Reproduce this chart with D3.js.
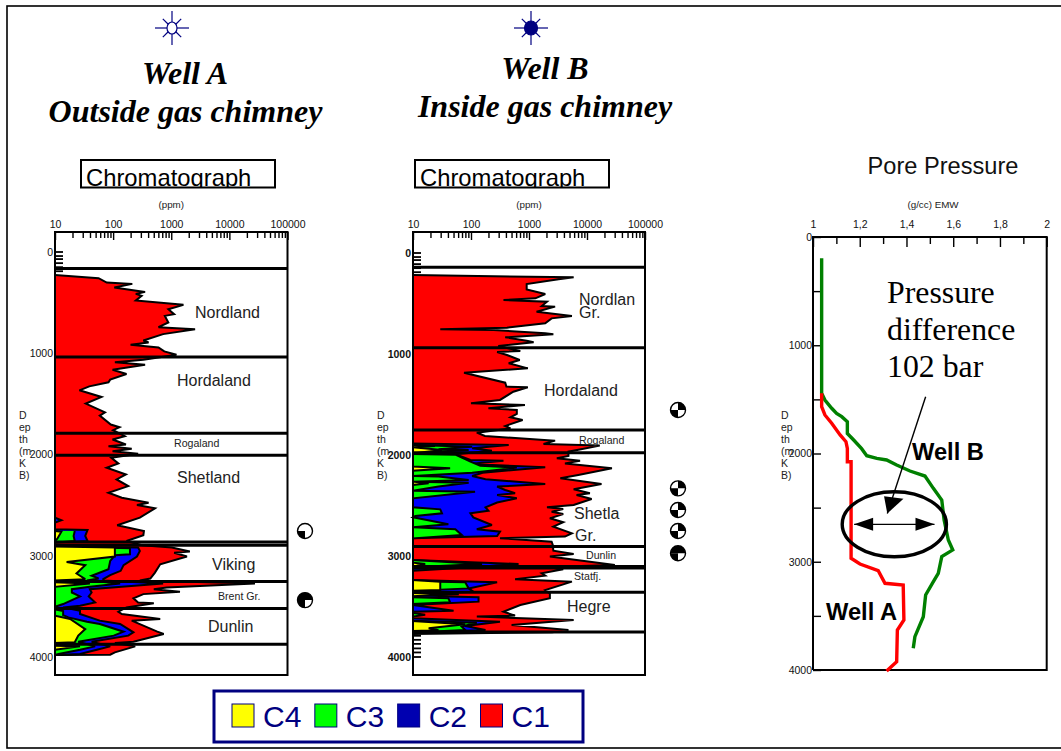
<!DOCTYPE html>
<html><head><meta charset="utf-8">
<script src="https://cdn.jsdelivr.net/npm/d3@7"></script>
<style>html,body{margin:0;padding:0;background:#fff}svg{display:block}</style>
</head><body><svg id="c" width="1061" height="751" font-family="Liberation Sans, Arial, sans-serif"></svg>
<script>
// Every curve: [depth in metres, log10 of cumulative ppm]
const wellA_C1=[[227,1],[259,1.75],[302,1.89],[315,2.33],[351,2.02],[394,2.55],[414,2.39],[433,2.49],[479,2.39],[522,3.21],[565,2.95],[614,3.05],[631,2.89],[696,2.95],[742,2.78],[762,3.41],[811,2.86],[874,2.52],[893,2.61],[916,2.30],[943,2.78],[982,2.88],[1015,3.09],[1064,2.52],[1090,2.03],[1113,2.55],[1163,1.99],[1205,2.23],[1261,1.95],[1287,1.92],[1327,1.59],[1366,1.42],[1432,1.80],[1497,1.53],[1583,1.86],[1616,1.77],[1704,1.96],[1731,2.11],[1760,2.00],[1819,2.20],[1852,1.99],[1901,2.22],[1918,1.92],[1944,2.32],[1967,1.99],[1993,2.43],[2033,1.97],[2089,2.09],[2131,1.89],[2197,2.22],[2246,2.06],[2312,2.26],[2378,1.92],[2427,2.15],[2476,2.61],[2499,2.41],[2532,2.72],[2624,2.46],[2699,2.07],[2755,2.53],[2798,2.52],[2854,2.23],[2897,2.5],[2919,3.01],[2959,3.32],[2970,3.05],[3008,3.27],[3084,2.81],[3166,2.72],[3225,2.64],[3245,2.46],[3274,4.44],[3313,2.92],[3330,2.7],[3356,3.15],[3379,2.52],[3421,2.35],[3461,2.43],[3470,2.70],[3510,2.23],[3553,2.09],[3576,2.15],[3625,2.81],[3641,2.32],[3750,2.76],[3773,2.87],[3849,2.35],[3862,2.03],[3895,2.38],[3954,2.03],[3977,1.95],[3980,1]];
const wellA_C2=[[2624,1],[2650,1.11],[2673,1],[2739,1],[2745,1.56],[2805,1.52],[2854,1.56],[2870,1],[2909,1],[2919,2.43],[2952,2.46],[3008,2.41],[3093,2.18],[3149,2.13],[3192,1.95],[3231,1.83],[3244,1.83],[3274,2.86],[3307,2.15],[3330,1.60],[3363,1.63],[3402,1.58],[3461,1.69],[3494,1.43],[3510,1.14],[3543,1.43],[3576,1.43],[3641,1.77],[3674,2.12],[3756,2.35],[3789,2.26],[3849,1.63],[3895,1.95],[3928,1.72],[3970,1.43],[3980,1]];
const wellA_C3=[[2755,1.34],[2805,1.32],[2854,1.34],[2870,1],[2909,1],[2926,2.29],[2985,2.29],[2995,2.03],[3051,1.95],[3133,1.92],[3198,1.63],[3224,1.75],[3244,1.55],[3274,2.12],[3307,1.60],[3330,1.29],[3363,1.29],[3402,1.43],[3477,1.14],[3503,1],[3530,1],[3546,1.14],[3586,1.14],[3609,1.23],[3651,1.55],[3674,1.77],[3750,2.18],[3789,2.01],[3849,1.40],[3895,1.69],[3928,1.43],[3970,1.06],[3980,1]];
const wellA_C4=[[2755,1],[2762,1.11],[2831,1.04],[2854,1],[2909,1],[2919,2.03],[3008,2.03],[3061,1.20],[3093,1.52],[3175,1.37],[3231,1.52],[3244,1],[3262,1],[3274,1.60],[3307,1],[3592,1],[3625,1.26],[3724,1.52],[3789,1.40],[3855,1.34],[3862,1],[3888,1],[3895,1.43],[3928,1]];
const wellB_C1=[[218,1],[241,3.77],[261,3.51],[307,2.96],[360,2.96],[406,3.28],[449,3.11],[465,2.56],[482,3.31],[525,3.22],[531,3.45],[581,3.13],[624,3.74],[647,3.39],[696,3.28],[739,2.62],[756,1.47],[762,2.39],[795,3.28],[805,3.42],[835,2.59],[868,2.96],[884,3.08],[921,2.47],[970,2.85],[980,2.45],[1010,2.62],[1059,2.84],[1092,2.65],[1142,2.98],[1185,1.88],[1284,2.59],[1323,2.61],[1330,2.98],[1373,2.73],[1455,2.50],[1488,2.00],[1505,2.93],[1538,2.30],[1554,2.79],[1594,2.79],[1627,2.68],[1653,2.89],[1713,2.59],[1736,2.68],[1779,2.10],[1812,2.24],[1858,3.45],[1891,3.25],[1907,4.22],[1967,3.68],[2010,3.68],[2033,3.48],[2056,3.88],[2083,3.62],[2132,4.43],[2198,3.85],[2231,3.54],[2287,4.25],[2340,3.77],[2379,4.05],[2396,3.82],[2435,4.08],[2495,3.77],[2518,3.31],[2534,3.59],[2561,3.39],[2584,3.59],[2627,3.36],[2666,3.59],[2709,3.42],[2775,3.74],[2808,3.62],[2825,2.50],[2858,3.39],[2891,3.41],[2947,3.42],[2980,3.77],[3006,3.36],[3089,4.48],[3110,3.3],[3132,3.59],[3172,3.22],[3195,3.28],[3231,2.76],[3254,3.74],[3337,3.28],[3370,3.36],[3419,3.36],[3485,2.85],[3551,2.56],[3590,2.76],[3600,2.10],[3633,3.77],[3683,2.70],[3732,3.68],[3755,3.4],[3772,1]];
const wellB_C2=[[1885,1],[1901,2.65],[1934,2.02],[1957,2.36],[1993,1.73],[2049,1.99],[2056,2.56],[2089,1.96],[2122,3.28],[2175,2.2],[2208,2.02],[2241,2.25],[2287,3.28],[2313,2.45],[2346,2.59],[2379,2.76],[2396,2.45],[2429,2.79],[2471,2.45],[2518,2.25],[2551,2.30],[2577,1.99],[2617,2.04],[2693,2.36],[2735,2.10],[2759,2.50],[2802,2.45],[2825,1],[3039,1],[3079,2.82],[3112,2.02],[3145,1],[3238,1],[3261,2.45],[3321,1.96],[3353,2.04],[3380,1],[3400,1.6],[3409,2.13],[3452,2.13],[3485,1],[3541,1.70],[3551,1],[3617,1],[3650,2.50],[3693,1.90],[3732,2.25],[3758,1]];
const wellB_C3=[[1901,1],[1918,2.02],[1944,1.44],[1950,1.96],[1983,1],[1990,1],[1997,1.73],[2066,1.99],[2106,2.16],[2125,2.79],[2175,2.02],[2208,1],[2214,1.44],[2247,1.96],[2264,1],[2274,1.96],[2313,1.44],[2353,1],[2363,2.07],[2429,1],[2518,1],[2538,1.47],[2577,1.50],[2604,1.04],[2617,1],[2686,1.61],[2716,1],[2735,1.73],[2792,1.84],[2825,1],[3039,1],[3079,2.19],[3112,1],[3250,1],[3261,1.90],[3321,1.96],[3345,1],[3409,1],[3419,1.61],[3459,1.64],[3475,1],[3564,1],[3581,1.21],[3600,1],[3640,1],[3660,2.10],[3699,1.84],[3732,1.90],[3758,1]];
const wellB_C4=[[1901,1],[1911,1.38],[1924,1],[1950,1.50],[1983,1],[2115,1],[2132,1.64],[2155,1],[2264,1],[2280,1.27],[2297,1],[3066,1],[3079,1.21],[3105,1],[3238,1],[3254,1.47],[3337,1.47],[3345,1],[3366,1],[3379,1.79],[3399,1],[3643,1],[3676,1.90],[3716,1.27],[3736,1.44],[3742,1]];
const wellA_tops=[164,1038,1790,2007,2865,2897,3254,3520,3875];
const wellB_tops=[142,937,1752,1977,2907,3105,3120,3360,3752];
const wellA_minorDepths=[0,40,70,110,150,190];
const wellB_minorDepths=[0,40,70,110,150,190,3790,3830,3870,3915,3955,4000];
const wellA_formations=[["Nordland",195,318,16],["Hordaland",177,386,16],["Rogaland",174,447,10.6],["Shetland",177,483,16],["Viking",212,570,16],["Brent Gr.",218,600,10.6],["Dunlin",208,632,16]];
const wellB_formations=[["Nordlan",579,305,16],["Gr.",579,318,16],["Hordaland",544,396,16],["Rogaland",579,444,10.6],["Shetla",574,519,16],["Gr.",575,541,16],["Dunlin",586,559,10.6],["Statfj.",574,580,10.6],["Hegre",567,612,16]];
const wellA_tests=[[2756,[2]],[3438,[0,2,3]]];
const wellB_tests=[[1554,[0,2]],[2330,[0,2]],[2545,[0,2]],[2752,[0,2]],[2973,[0,2,3]]];
const pressureWellB=[[197,1.037],[1444,1.037],[1506,1.051],[1582,1.08],[1629,1.101],[1660,1.123],[1706,1.147],[1815,1.147],[1871,1.172],[1955,1.208],[2020,1.23],[2045,1.273],[2060,1.315],[2106,1.358],[2162,1.415],[2208,1.479],[2322,1.515],[2430,1.551],[2614,1.561],[2799,1.579],[2891,1.598],[2953,1.551],[3107,1.536],[3184,1.515],[3307,1.482],[3508,1.472],[3692,1.436],[3800,1.429]];
const pressureWellA=[[1444,1.037],[1567,1.037],[1644,1.051],[1721,1.08],[1829,1.116],[1891,1.141],[1952,1.147],[2076,1.147],[2076,1.163],[2968,1.163],[3021,1.201],[3083,1.279],[3199,1.308],[3215,1.386],[3538,1.389],[3630,1.361],[3923,1.358],[4009,1.315]];
const pressureTicks=d3.range(1,2.01,0.1);
const pressureLabels=["1","1,2","1,4","1,6","1,8","2"];
const depthLabels=[0,1000,2000,3000,4000];
const depthWrapped=["D","ep","th","(m","K","B)"];
const legendNames=["C4","C3","C2","C1"];
const chartColors={C1:"#ff0000",C2:"#0000ff",C3:"#00ff00",C4:"#ffff00"};
const legendColors=["#ffff00","#00ff00","#0000b0","#ff0000"];
const navy="#000080";

const svg=d3.select("#c");
const defs=svg.append("defs");
svg.append("rect").attr("width",1061).attr("height",751).attr("fill","#fff");
svg.append("rect").attr("x",7).attr("y",6).attr("width",1070).attr("height",742).attr("fill","none").attr("stroke","#000").attr("stroke-width",1.6);

function label(g,t,x,y,size,o={}){return g.append("text").attr("x",x).attr("y",y).attr("font-size",size).attr("text-anchor",o.anchor||"start").attr("font-weight",o.weight||"normal").attr("font-style",o.style||"normal").attr("font-family",o.family||null).attr("fill",o.fill||"#111").text(t);}

function sun(cx,cy,filled){
  const g=svg.append("g").attr("transform",`translate(${cx},${cy})`);
  g.selectAll("line").data(d3.range(8)).join("line")
    .attr("x1",d=>5*Math.cos(d*Math.PI/4)).attr("y1",d=>5*Math.sin(d*Math.PI/4))
    .attr("x2",d=>(d%2?13:17)*Math.cos(d*Math.PI/4)).attr("y2",d=>(d%2?13:17)*Math.sin(d*Math.PI/4))
    .attr("stroke",navy).attr("stroke-width",1.2);
  g.append("ellipse").attr("rx",filled?6.5:5).attr("ry",filled?7:6).attr("fill",filled?navy:"#fff").attr("stroke",navy).attr("stroke-width",1.2);
}

function chromBox(x,id){
  svg.append("rect").attr("x",x).attr("y",160).attr("width",194).attr("height",27.5).attr("fill","#fff").attr("stroke","#000").attr("stroke-width",2);
  defs.append("clipPath").attr("id",id).append("rect").attr("x",x).attr("y",160).attr("width",194).attr("height",27.5);
  label(svg,"Chromatograph",x+5,186,23.8).attr("clip-path",`url(#${id})`).attr("fill","#000");
}

function wrapped(x){
  const g=svg.append("g");
  depthWrapped.forEach((t,i)=>label(g,t,x,419+i*12,10.5,{fill:"#222"}));
}

function wellPanel(o){
  const x=d3.scaleLog().domain([10,100000]).range([o.x0,o.x1]);
  const y=d3.scaleLinear().domain([0,4000]).range([o.y0,o.y4]);
  const g=svg.append("g");
  g.append("rect").attr("x",o.x0).attr("y",232).attr("width",o.x1-o.x0).attr("height",443).attr("fill","#fff");
  const area=d3.area().x0(x(10)).x1(d=>x(10**d[1])).y(d=>y(d[0]));
  const line=d3.line().x(d=>x(10**d[1])).y(d=>y(d[0]));
  ["C1","C2","C3","C4"].forEach((k,i)=>{
    g.append("path").datum(o.curves[i]).attr("d",area).attr("fill",chartColors[k]);
    g.append("path").datum(o.curves[i]).attr("d",line).attr("fill","none").attr("stroke","#000").attr("stroke-width",2).attr("stroke-linejoin","miter").attr("stroke-miterlimit",3);
  });
  g.selectAll("line.top").data(o.tops).join("line").attr("class","top").attr("x1",o.x0).attr("x2",o.x1).attr("y1",d=>y(d)).attr("y2",d=>y(d)).attr("stroke","#000").attr("stroke-width",3);
  g.selectAll("line.minor").data(o.minor).join("line").attr("class","minor").attr("x1",o.x0).attr("x2",o.x0+8).attr("y1",d=>y(d)).attr("y2",d=>y(d)).attr("stroke","#000").attr("stroke-width",1.8);
  g.append("rect").attr("x",o.x0).attr("y",232).attr("width",o.x1-o.x0).attr("height",443).attr("fill","none").attr("stroke","#000").attr("stroke-width",2);
  const top=g.append("g").attr("transform","translate(0,232)").call(
    d3.axisTop(x).tickValues(x.ticks()).tickSizeInner(-6).tickSizeOuter(0).tickPadding(4)
      .tickFormat(d=>Number.isInteger(Math.log10(d))?String(d):""));
  top.select(".domain").remove();
  top.selectAll(".tick line").attr("stroke-width",1.4).attr("y2",d=>Number.isInteger(Math.log10(d))?8:6);
  top.selectAll(".tick text").attr("font-size",10.5).attr("font-family","Liberation Sans").attr("fill","#111");
  const left=g.append("g").attr("transform",`translate(${o.x0},0)`).call(
    d3.axisLeft(y).tickValues(depthLabels).tickSize(0).tickPadding(2).tickFormat(d3.format("d")));
  left.select(".domain").remove();
  left.selectAll("text").attr("font-size",10.5).attr("font-family","Liberation Sans").attr("fill","#111").attr("font-weight",o.boldDepth?"bold":"normal");
  o.formations.forEach(f=>label(g,f[0],f[1],f[2],f[3],{fill:"#222"}));
  const arc=d3.arc().innerRadius(0).outerRadius(7.5);
  o.tests.forEach(t=>{
    const m=g.append("g").attr("transform",`translate(${o.testX},${y(t[0])})`);
    m.append("circle").attr("r",7.5).attr("fill","#fff").attr("stroke","#000").attr("stroke-width",1.4);
    t[1].forEach(q=>m.append("path").attr("d",arc({startAngle:q*Math.PI/2,endAngle:(q+1)*Math.PI/2})).attr("fill","#000"));
  });
  label(svg,"(ppm)",(o.x0+o.x1)/2,207.5,9.8,{anchor:"middle",fill:"#222"});
  wrapped(o.labelX);
}

sun(172,28,false); sun(531,28,true);
const titleFont={anchor:"middle",weight:"bold",style:"italic",family:"Liberation Serif",fill:"#000"};
label(svg,"Well A",185,84,32,titleFont);
label(svg,"Outside gas chimney",185.5,122,32,titleFont);
label(svg,"Well B",545,79,32,titleFont);
label(svg,"Inside gas chimney",545,117,32,titleFont);
chromBox(81,"clipA"); chromBox(415,"clipB");

wellPanel({x0:55,x1:287.5,y0:252,y4:657,curves:[wellA_C1,wellA_C2,wellA_C3,wellA_C4],tops:wellA_tops,minor:wellA_minorDepths,formations:wellA_formations,tests:wellA_tests,testX:305,labelX:19,boldDepth:false});
wellPanel({x0:413,x1:645,y0:253,y4:657,curves:[wellB_C1,wellB_C2,wellB_C3,wellB_C4],tops:wellB_tops,minor:wellB_minorDepths,formations:wellB_formations,tests:wellB_tests,testX:678,labelX:377,boldDepth:true});

// Pressure panel
const px=d3.scaleLinear().domain([1,2]).range([813,1046.7]);
const py=d3.scaleLinear().domain([0,4000]).range([237,670]);
label(svg,"Pore Pressure",943,174,23.6,{anchor:"middle",fill:"#111"});
label(svg,"(g/cc) EMW",933,207.5,9.8,{anchor:"middle",fill:"#222"});
const pg=svg.append("g");
pg.append("path").attr("d",`M${px(1)},${py(4000)}V${py(0)}H${px(2)}V${py(4000)}H${px(1)}`).attr("fill","none").attr("stroke","#000").attr("stroke-width",2);
const pTop=pg.append("g").attr("transform",`translate(0,${py(0)})`).call(
  d3.axisTop(px).tickValues(pressureTicks).tickSizeInner(-5).tickSizeOuter(0).tickPadding(9)
    .tickFormat((d,i)=>i%2?"":pressureLabels[i/2]));
pTop.select(".domain").remove();
pTop.selectAll(".tick line").attr("stroke-width",1.4).attr("y2",(d,i)=>i%2?7:10);
pTop.selectAll("text").attr("font-size",10.5).attr("font-family","Liberation Sans").attr("fill","#111");
const pLeft=pg.append("g").attr("transform",`translate(${px(1)},0)`).call(
  d3.axisLeft(py).tickValues(d3.range(0,4001,500)).tickSizeInner(-8).tickSizeOuter(0).tickPadding(1)
    .tickFormat(d=>d%1000===0?String(d):""));
pLeft.select(".domain").remove();
pLeft.selectAll(".tick line").attr("stroke-width",1.4);
pLeft.selectAll("text").attr("font-size",10.5).attr("font-family","Liberation Sans").attr("fill","#111");
wrapped(781);
const pl=d3.line().x(d=>px(d[1])).y(d=>py(d[0]));
pg.append("path").datum(pressureWellB).attr("d",pl).attr("fill","none").attr("stroke","#008000").attr("stroke-width",3.4);
pg.append("path").datum(pressureWellA).attr("d",pl).attr("fill","none").attr("stroke","#ff0000").attr("stroke-width",3.4);

const serif={family:"Liberation Serif",fill:"#000"};
label(svg,"Pressure",887,303,31.8,serif);
label(svg,"difference",887,340,31.8,serif);
label(svg,"102 bar",887,377,31.8,serif);
label(svg,"Well B",912,460,23.7,{weight:"bold",fill:"#000"});
label(svg,"Well A",826,620,23.7,{weight:"bold",fill:"#000"});

// Pressure difference annotation (in pressure / depth units)
const ann={p:1.348,d:2654,rp:0.223,rd:300,from:1.176,to:1.52,arrowTop:[1.482,1476],arrowTip:[1.318,2554],headA:[1.304,2394],headB:[1.387,2418]};
pg.append("ellipse").attr("cx",px(ann.p)).attr("cy",py(ann.d)).attr("rx",px(1+ann.rp)-px(1)).attr("ry",py(ann.rd)-py(0)).attr("fill","none").attr("stroke","#000").attr("stroke-width",3.4);
const ay=py(ann.d);
pg.append("line").attr("x1",px(ann.from)).attr("x2",px(ann.to)).attr("y1",ay).attr("y2",ay).attr("stroke","#000").attr("stroke-width",1.2);
pg.append("path").attr("d",`M${px(ann.from)},${ay}l19,-6.5v13z`).attr("fill","#000");
pg.append("path").attr("d",`M${px(ann.to)},${ay}l-19,-6.5v13z`).attr("fill","#000");
pg.append("line").attr("x1",px(ann.arrowTop[0])).attr("y1",py(ann.arrowTop[1])).attr("x2",px(ann.arrowTip[0])).attr("y2",py(ann.arrowTip[1])).attr("stroke","#000").attr("stroke-width",1.4);
pg.append("path").attr("d",`M${px(ann.arrowTip[0])},${py(ann.arrowTip[1])}L${px(ann.headA[0])},${py(ann.headA[1])}L${px(ann.headB[0])},${py(ann.headB[1])}z`).attr("fill","#000");

// Legend
svg.append("rect").attr("x",214).attr("y",691).attr("width",369).attr("height",51).attr("fill","#fff").attr("stroke",navy).attr("stroke-width",3);
const legendX=d3.scalePoint().domain(legendNames).range([232,480.5]);
legendNames.forEach((n,i)=>{
  svg.append("rect").attr("x",legendX(n)).attr("y",704).attr("width",22).attr("height",23).attr("fill",legendColors[i]).attr("stroke",navy).attr("stroke-width",1);
  label(svg,n,legendX(n)+31,727,30,{fill:navy});
});
</script></body></html>
